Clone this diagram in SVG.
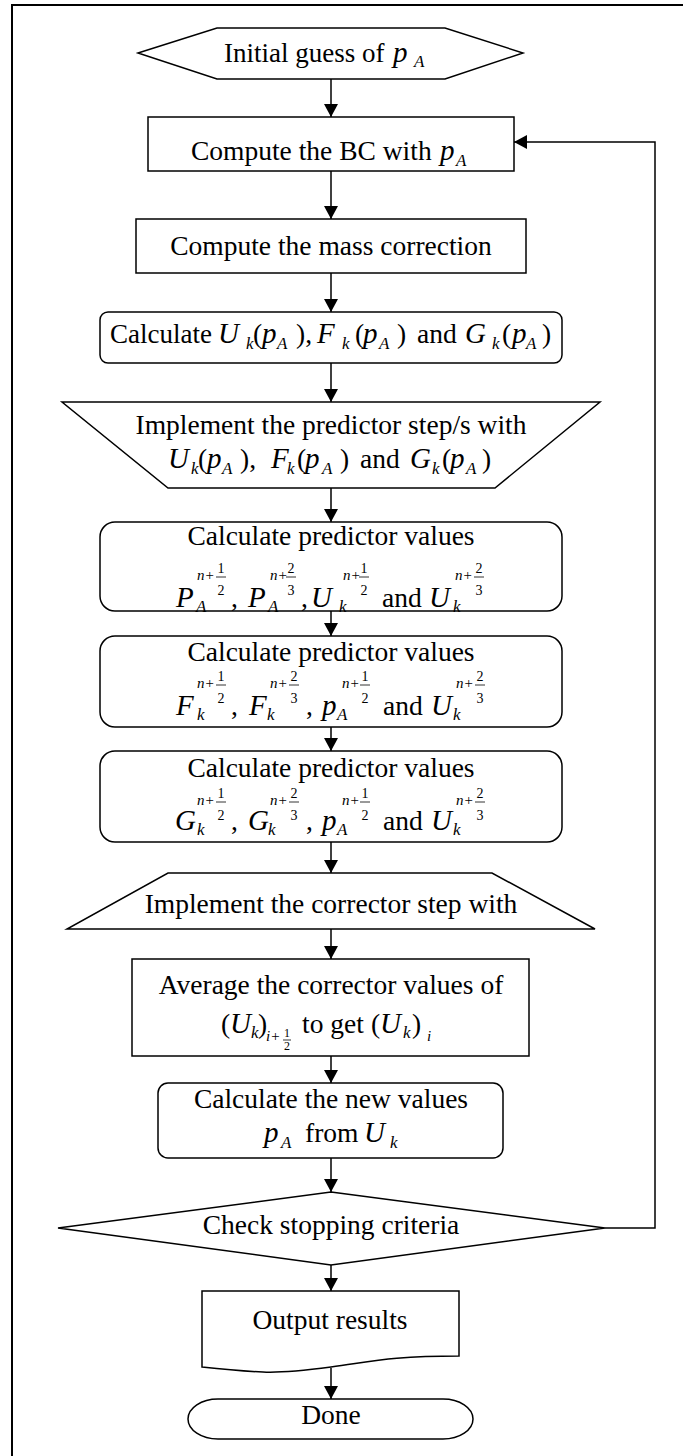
<svg xmlns="http://www.w3.org/2000/svg" width="683" height="1456" viewBox="0 0 683 1456">
<style>
.sh{fill:#fff;stroke:#000;stroke-width:1.5}
.cn{fill:none;stroke:#000;stroke-width:1.5}
.bd{fill:none;stroke:#000;stroke-width:2}
text{font-family:"Liberation Serif","Times New Roman",serif;font-size:27.5px;fill:#000}
.c{text-anchor:middle}
.i{font-style:italic;font-size:29px}
.s{font-size:17px;font-style:italic}
.n{font-size:15px;font-style:italic}
.f{font-size:14px}
.fb{stroke:#000;stroke-width:0.8}
</style>
<defs>
<marker id="arr" markerWidth="13" markerHeight="14" refX="13" refY="7" orient="auto" markerUnits="userSpaceOnUse"><path d="M0,0 L13,7 L0,14 z" fill="#000"/></marker>
</defs>
<rect width="683" height="1456" fill="#fff"/>
<path class="bd" d="M12,1456 L12,5 L683,5"/>

<g id="connectors">
<path class="cn" d="M331,79 L331,117" marker-end="url(#arr)"/>
<path class="cn" d="M331,171 L331,219" marker-end="url(#arr)"/>
<path class="cn" d="M331,273 L331,312" marker-end="url(#arr)"/>
<path class="cn" d="M331,363 L331,402" marker-end="url(#arr)"/>
<path class="cn" d="M331,488 L331,522" marker-end="url(#arr)"/>
<path class="cn" d="M331,611 L331,636" marker-end="url(#arr)"/>
<path class="cn" d="M331,727 L331,751" marker-end="url(#arr)"/>
<path class="cn" d="M331,842 L331,873" marker-end="url(#arr)"/>
<path class="cn" d="M331,929 L331,959" marker-end="url(#arr)"/>
<path class="cn" d="M331,1056 L331,1083" marker-end="url(#arr)"/>
<path class="cn" d="M331,1158 L331,1192" marker-end="url(#arr)"/>
<path class="cn" d="M331,1265 L331,1291" marker-end="url(#arr)"/>
<path class="cn" d="M331,1368 L331,1399" marker-end="url(#arr)"/>
<path class="cn" d="M605,1228 L655,1228 L655,142 L514,142" marker-end="url(#arr)"/>
</g>

<g id="n_start">
<polygon class="sh" points="138,53 217,28 445,28 523,53 445,79 217,79"/>
<text x="224" y="62" style="font-size:27px">Initial guess of</text>
<text x="393" y="62" class="i">p</text><text x="414" y="67" class="s">A</text>
</g>

<g id="n_bc">
<rect class="sh" x="148" y="117" width="366" height="54"/>
<text x="191" y="160">Compute the BC with</text>
<text x="440" y="160" class="i">p</text><text x="456" y="166" class="s">A</text>
</g>

<g id="n_mass">
<rect class="sh" x="136" y="219" width="390" height="54"/>
<text x="331" y="255" class="c">Compute the mass correction</text>
</g>

<g id="n_calc">
<rect class="sh" x="100" y="312" width="462" height="51" rx="8"/>
<text y="343"><tspan x="110" style="font-size:27px">Calculate</tspan><tspan x="218" class="i">U</tspan><tspan x="253">(</tspan><tspan x="262" class="i">p</tspan><tspan x="296">),</tspan><tspan x="317" class="i">F</tspan><tspan x="355">(</tspan><tspan x="363" class="i">p</tspan><tspan x="397">)</tspan><tspan x="417">and</tspan><tspan x="465" class="i">G</tspan><tspan x="502">(</tspan><tspan x="512" class="i">p</tspan><tspan x="542">)</tspan></text>
<text y="349" class="s"><tspan x="246">k</tspan><tspan x="277">A</tspan><tspan x="342">k</tspan><tspan x="379">A</tspan><tspan x="492">k</tspan><tspan x="526">A</tspan></text>
</g>

<g id="n_pred">
<polygon class="sh" points="62,402 600,402 495,488 168,488"/>
<text x="331" y="434" class="c">Implement the predictor step/s with</text>
<text y="468"><tspan x="168" class="i">U</tspan><tspan x="198">(</tspan><tspan x="207" class="i">p</tspan><tspan x="240">),</tspan><tspan x="271" class="i">F</tspan><tspan x="297">(</tspan><tspan x="305" class="i">p</tspan><tspan x="340">)</tspan><tspan x="360">and</tspan><tspan x="410" class="i">G</tspan><tspan x="442">(</tspan><tspan x="450" class="i">p</tspan><tspan x="482">)</tspan></text>
<text y="474" class="s"><tspan x="191">k</tspan><tspan x="222">A</tspan><tspan x="287">k</tspan><tspan x="322">A</tspan><tspan x="432">k</tspan><tspan x="466">A</tspan></text>
</g>

<g id="n_pv1">
<rect class="sh" x="100" y="522" width="462" height="89" rx="15"/>
<text x="331" y="545" class="c">Calculate predictor values</text>
<text y="607"><tspan x="176" class="i">P</tspan><tspan x="231">,</tspan><tspan x="248" class="i">P</tspan><tspan x="301">,</tspan><tspan x="311" class="i">U</tspan><tspan x="382">and</tspan><tspan x="429" class="i">U</tspan></text>
<text y="612" class="s"><tspan x="196">A</tspan><tspan x="268">A</tspan><tspan x="339">k</tspan><tspan x="453">k</tspan></text>
<text y="580" class="n"><tspan x="197">n+</tspan><tspan x="270">n+</tspan><tspan x="343">n+</tspan><tspan x="455">n+</tspan></text>
<text y="573" class="f c"><tspan x="221">1</tspan><tspan x="291">2</tspan><tspan x="364">1</tspan><tspan x="479">2</tspan></text>
<text y="595" class="f c"><tspan x="221">2</tspan><tspan x="291">3</tspan><tspan x="364">2</tspan><tspan x="479">3</tspan></text>
<path class="fb" d="M216,577 H226 M286,577 H296 M359,577 H369 M474,577 H484"/>
</g>

<g id="n_pv2">
<rect class="sh" x="100" y="636" width="462" height="91" rx="15"/>
<text x="331" y="661" class="c">Calculate predictor values</text>
<text y="715"><tspan x="176" class="i">F</tspan><tspan x="231">,</tspan><tspan x="249" class="i">F</tspan><tspan x="306">,</tspan><tspan x="322" class="i">p</tspan><tspan x="383">and</tspan><tspan x="431" class="i">U</tspan></text>
<text y="720" class="s"><tspan x="197">k</tspan><tspan x="267">k</tspan><tspan x="337">A</tspan><tspan x="453">k</tspan></text>
<text y="688" class="n"><tspan x="197">n+</tspan><tspan x="270">n+</tspan><tspan x="342">n+</tspan><tspan x="456">n+</tspan></text>
<text y="681" class="f c"><tspan x="221">1</tspan><tspan x="294">2</tspan><tspan x="365">1</tspan><tspan x="480">2</tspan></text>
<text y="703" class="f c"><tspan x="221">2</tspan><tspan x="294">3</tspan><tspan x="365">2</tspan><tspan x="480">3</tspan></text>
<path class="fb" d="M216,685 H226 M289,685 H299 M360,685 H370 M475,685 H485"/>
</g>

<g id="n_pv3">
<rect class="sh" x="100" y="751" width="462" height="91" rx="15"/>
<text x="331" y="777" class="c">Calculate predictor values</text>
<text y="830"><tspan x="175" class="i">G</tspan><tspan x="231">,</tspan><tspan x="248" class="i">G</tspan><tspan x="306">,</tspan><tspan x="322" class="i">p</tspan><tspan x="383">and</tspan><tspan x="431" class="i">U</tspan></text>
<text y="835" class="s"><tspan x="197">k</tspan><tspan x="268">k</tspan><tspan x="337">A</tspan><tspan x="453">k</tspan></text>
<text y="805" class="n"><tspan x="197">n+</tspan><tspan x="270">n+</tspan><tspan x="342">n+</tspan><tspan x="456">n+</tspan></text>
<text y="798" class="f c"><tspan x="221">1</tspan><tspan x="294">2</tspan><tspan x="365">1</tspan><tspan x="480">2</tspan></text>
<text y="820" class="f c"><tspan x="221">2</tspan><tspan x="294">3</tspan><tspan x="365">2</tspan><tspan x="480">3</tspan></text>
<path class="fb" d="M216,802 H226 M289,802 H299 M360,802 H370 M475,802 H485"/>
</g>

<g id="n_corr">
<polygon class="sh" points="168,873 492,873 595,929 67,929"/>
<text x="331" y="913" class="c">Implement the corrector step with</text>
</g>

<g id="n_avg">
<rect class="sh" x="132" y="959" width="397" height="97"/>
<text x="331" y="994" class="c">Average the corrector values of</text>
<text y="1033"><tspan x="221">(</tspan><tspan x="230" class="i">U</tspan><tspan x="258">)</tspan><tspan x="302">to get</tspan><tspan x="371">(</tspan><tspan x="380" class="i">U</tspan><tspan x="412">)</tspan></text>
<text y="1038" class="s"><tspan x="251">k</tspan><tspan x="403">k</tspan></text>
<text y="1041" class="n"><tspan x="266">i+</tspan><tspan x="427">i</tspan></text>
<text y="1037" class="f c" style="font-size:12px"><tspan x="287">1</tspan></text>
<text y="1050" class="f c" style="font-size:12px"><tspan x="287">2</tspan></text>
<path class="fb" d="M283,1040 H291"/>
</g>

<g id="n_new">
<rect class="sh" x="158" y="1083" width="345" height="75" rx="10"/>
<text x="331" y="1108" class="c">Calculate the new values</text>
<text y="1142"><tspan x="264" class="i">p</tspan><tspan x="305">from</tspan><tspan x="364" class="i">U</tspan></text>
<text y="1148" class="s"><tspan x="281">A</tspan><tspan x="390">k</tspan></text>
</g>

<g id="n_check">
<polygon class="sh" points="331,1192 605,1228 331,1265 58,1228"/>
<text x="331" y="1234" class="c">Check stopping criteria</text>
</g>

<g id="n_out">
<path class="sh" d="M202,1291 L459,1291 L459,1356 C390,1356 370,1362 331,1367 C300,1371 280,1373 263,1372 C240,1371 220,1369 202,1367 Z"/>
<text x="330" y="1329" class="c">Output results</text>
</g>

<g id="n_done">
<rect class="sh" x="188" y="1399" width="285" height="40" rx="30" ry="20"/>
<text x="331" y="1424" class="c">Done</text>
</g>
</svg>
